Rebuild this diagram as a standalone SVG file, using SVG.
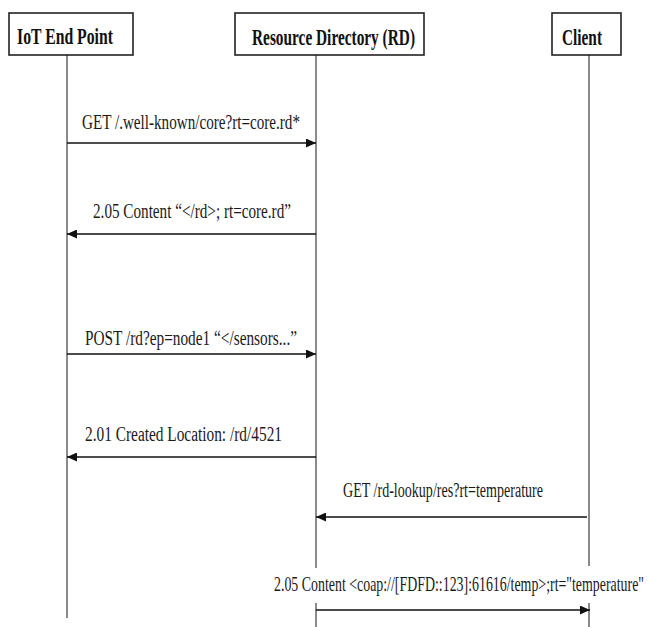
<svg xmlns="http://www.w3.org/2000/svg" width="651" height="627" viewBox="0 0 651 627">
  <defs>
    <marker id="arrow" viewBox="0 0 10 9" refX="10" refY="4.5" markerWidth="10" markerHeight="9" markerUnits="userSpaceOnUse" orient="auto">
      <path d="M0,0 L10,4.5 L0,9 z" fill="#111"/>
    </marker>
    <style>
      .box { fill: #fff; stroke: #222; stroke-width: 1.6; }
      .head { font-family: "Liberation Serif", "Times New Roman", serif; font-weight: bold; font-size: 23px; fill: #111; }
      .life { stroke: #6e6e6e; stroke-width: 1.6; fill: none; }
      .msg { stroke: #111; stroke-width: 1.6; fill: none; marker-end: url(#arrow); }
      .lbl { font-family: "Liberation Serif", "Times New Roman", serif; font-size: 20.5px; fill: #1a1a1a; }
    </style>
  </defs>
  <rect width="651" height="627" fill="#fff"/>

  <g id="iot-end-point">
    <line class="life" x1="67" y1="55" x2="67" y2="618"/>
    <rect class="box" x="9" y="13" width="124" height="42"/>
    <text class="head" x="17" y="44" textLength="96" lengthAdjust="spacingAndGlyphs">IoT End Point</text>
  </g>

  <g id="resource-directory">
    <line class="life" x1="316" y1="55" x2="316" y2="568"/>
    <line class="life" x1="316" y1="603" x2="316" y2="627"/>
    <rect class="box" x="235" y="13" width="189" height="42"/>
    <text class="head" x="252" y="45" textLength="163" lengthAdjust="spacingAndGlyphs">Resource Directory (RD)</text>
  </g>

  <g id="client">
    <line class="life" x1="589" y1="55" x2="589" y2="566"/>
    <line class="life" x1="589" y1="603" x2="589" y2="627"/>
    <rect class="box" x="552" y="13" width="69" height="42"/>
    <text class="head" x="562" y="45" textLength="40" lengthAdjust="spacingAndGlyphs">Client</text>
  </g>

  <g id="connectors">
    <line class="msg" x1="67" y1="143" x2="316" y2="143"/>
    <text class="lbl" x="82" y="129" textLength="218" lengthAdjust="spacingAndGlyphs">GET /.well-known/core?rt=core.rd*</text>

    <line class="msg" x1="316" y1="234" x2="67" y2="234"/>
    <text class="lbl" x="93" y="218" textLength="198" lengthAdjust="spacingAndGlyphs">2.05 Content “&lt;/rd&gt;; rt=core.rd”</text>

    <line class="msg" x1="67" y1="354" x2="316" y2="354"/>
    <text class="lbl" x="85" y="345" textLength="212" lengthAdjust="spacingAndGlyphs">POST /rd?ep=node1 “&lt;/sensors...”</text>

    <line class="msg" x1="316" y1="457" x2="67" y2="457"/>
    <text class="lbl" x="85" y="441" textLength="197" lengthAdjust="spacingAndGlyphs">2.01 Created Location: /rd/4521</text>

    <line class="msg" x1="587" y1="517" x2="316" y2="517"/>
    <text class="lbl" x="343" y="497" textLength="200" lengthAdjust="spacingAndGlyphs">GET /rd-lookup/res?rt=temperature</text>

    <line class="msg" x1="316" y1="610" x2="590" y2="610"/>
    <text class="lbl" transform="translate(274,591) scale(1,1.5)" x="0" y="0" style="font-size:13.6px" textLength="370" lengthAdjust="spacingAndGlyphs">2.05 Content &lt;coap://[FDFD::123]:61616/temp&gt;;rt="temperature"</text>
  </g>
</svg>
